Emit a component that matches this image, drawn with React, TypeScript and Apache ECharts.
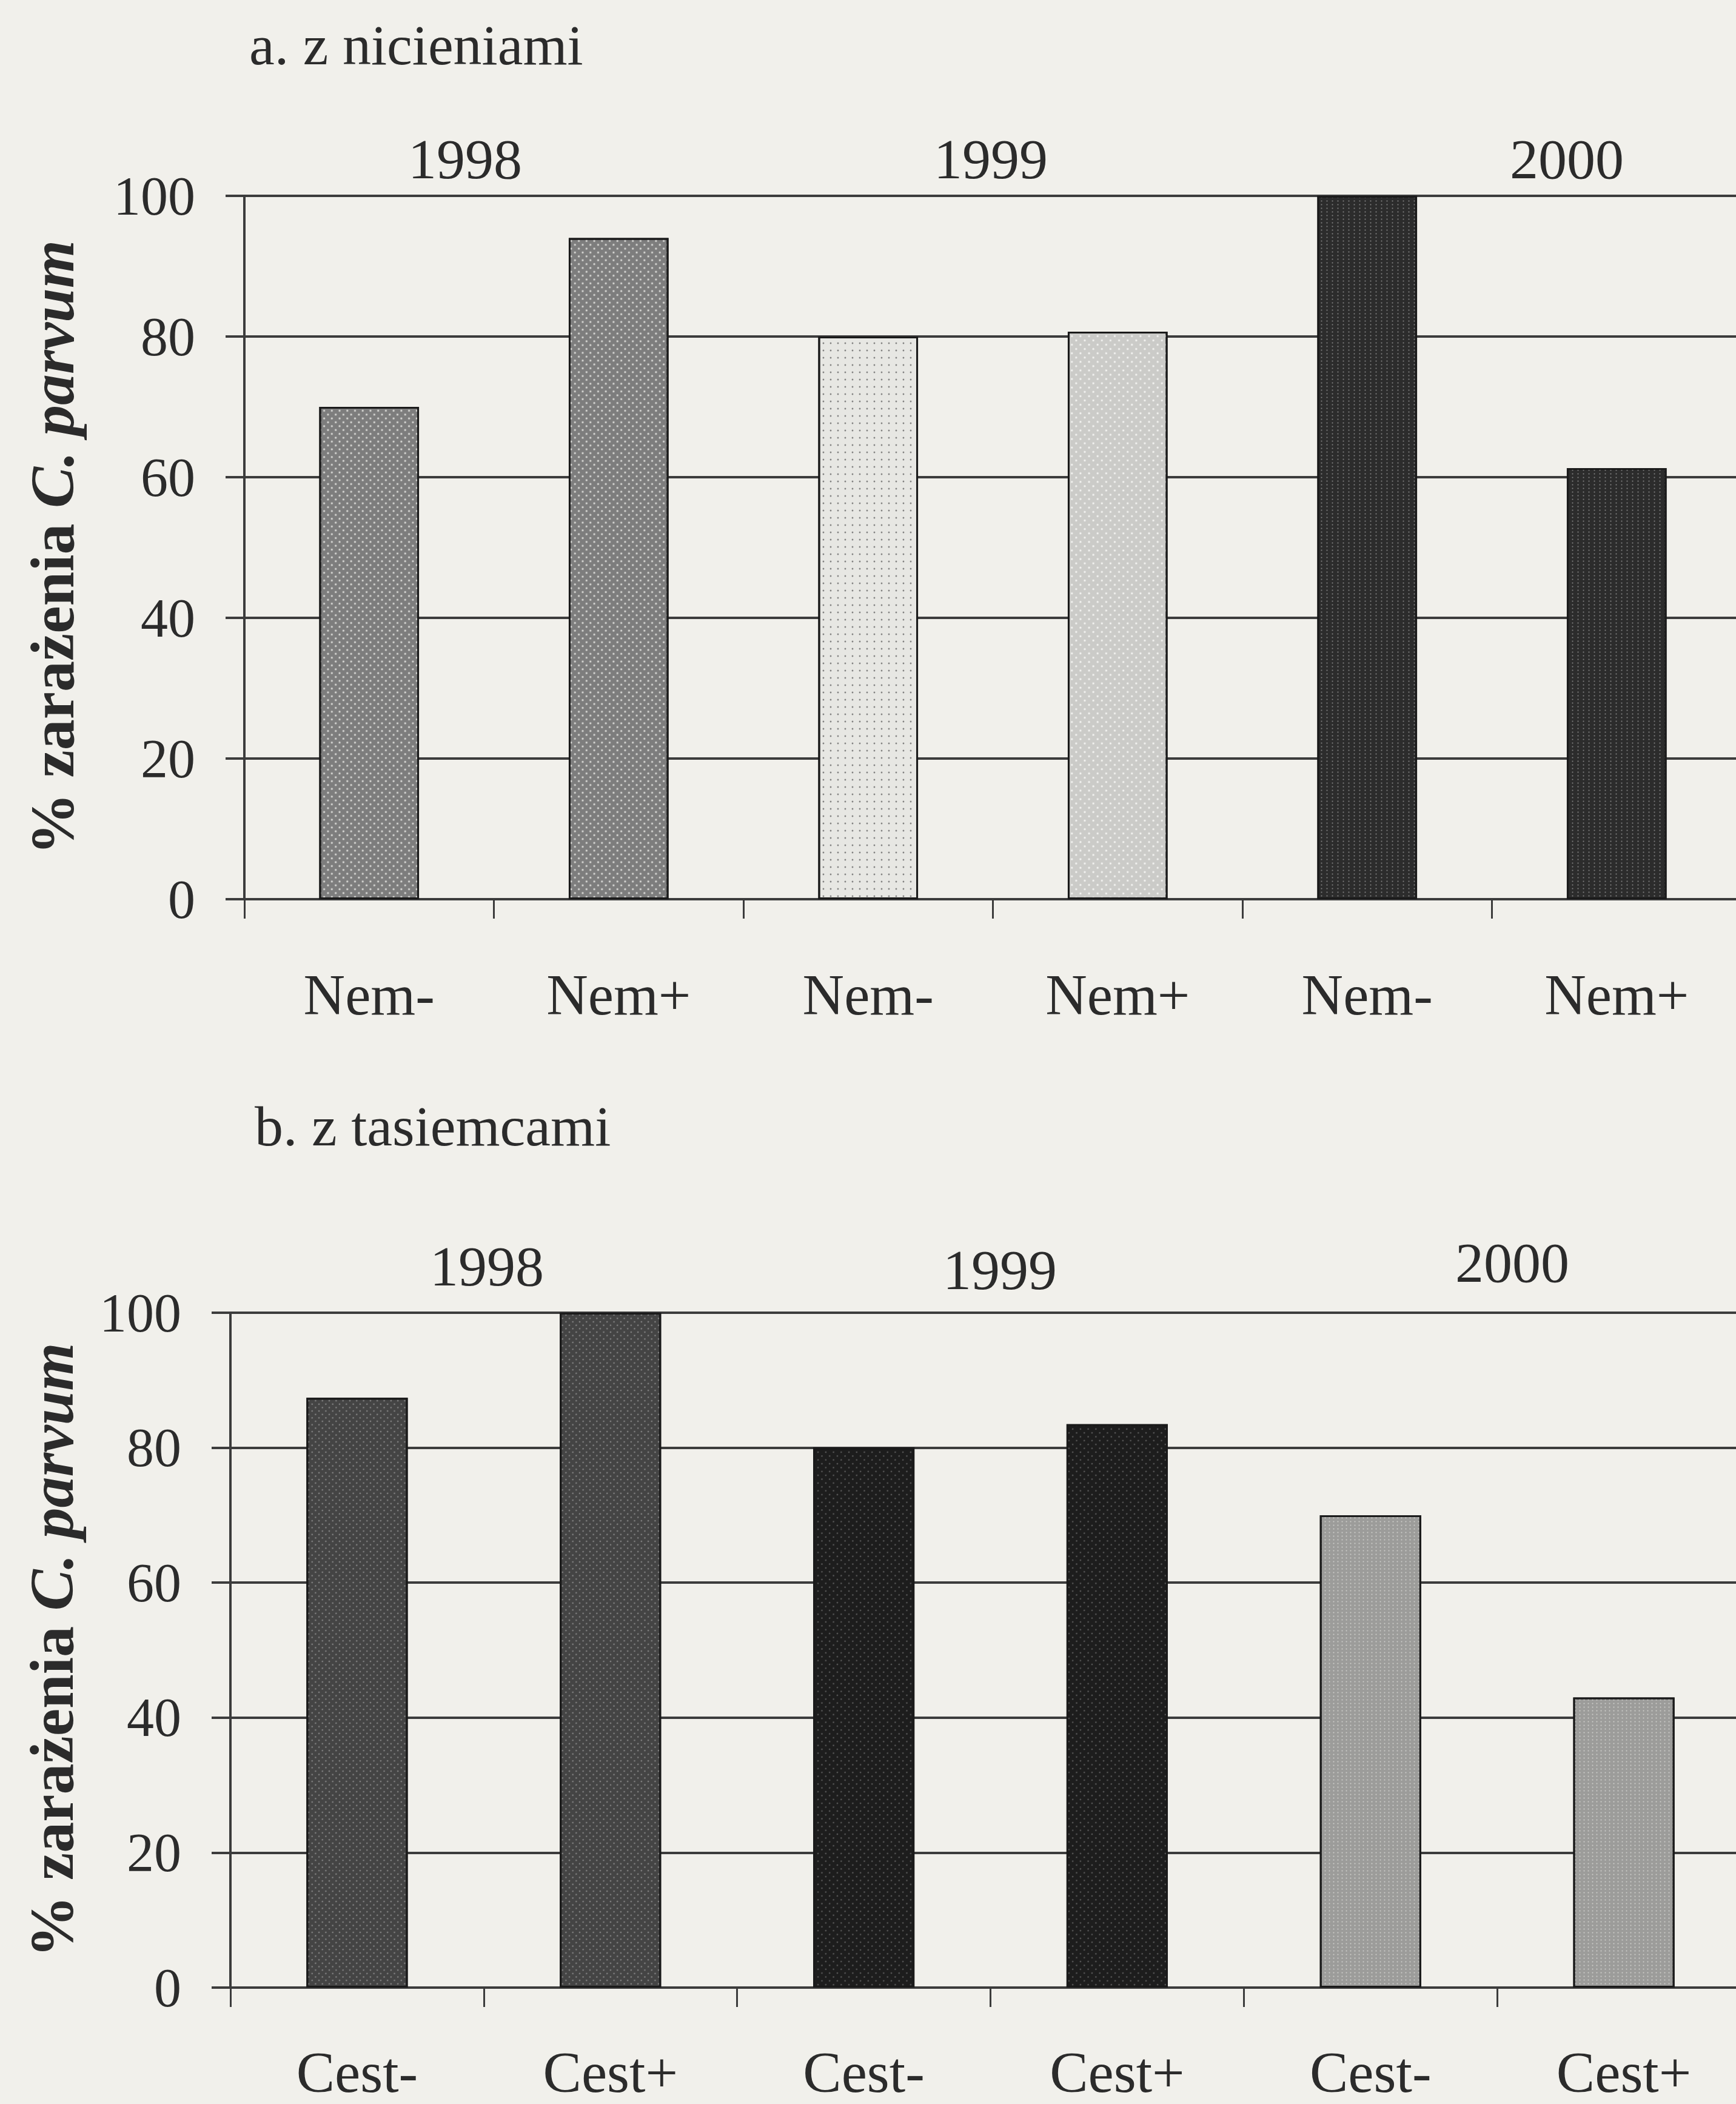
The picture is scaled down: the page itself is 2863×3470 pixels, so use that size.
import React, { useEffect, useRef } from 'react';
import * as echarts from 'echarts';

// ---- data ----
const topCategories = ['Nem-', 'Nem+', 'Nem-', 'Nem+', 'Nem-', 'Nem+'];
const topValues = [70, 94, 80, 80.7, 100, 61.3];
const bottomCategories = ['Cest-', 'Cest+', 'Cest-', 'Cest+', 'Cest-', 'Cest+'];
const bottomValues = [87.4, 100, 80, 83.5, 70, 43];
const yearLabels = ['1998', '1999', '2000'];
const titleTop = 'a. z nicieniami';
const titleBottom = 'b. z tasiemcami';
const axisNameMain = '% zarażenia ';
const axisNameSpecies = 'C. parvum';
const yMin = 0;
const yMax = 100;
const yInterval = 20;

// ---- styles ----
const FONT = 'Liberation Serif';
const INK = '#2b2b2b';
const LINE = '#3c3c3c';

const crossLight = {
  symbol: 'circle', symbolSize: 0.8, color: 'rgba(235,235,232,0.85)',
  dashArrayX: [4, 5], dashArrayY: [4, 5], rotation: Math.PI / 4,
};
const dotsGray = {
  symbol: 'circle', symbolSize: 0.7, color: 'rgba(120,120,120,0.9)',
  dashArrayX: [4, 8], dashArrayY: [4, 8], rotation: 0,
};
const crossWhite = {
  symbol: 'circle', symbolSize: 0.8, color: 'rgba(250,250,248,0.9)',
  dashArrayX: [4, 6], dashArrayY: [4, 6], rotation: Math.PI / 4,
};
const colDots = {
  symbol: 'circle', symbolSize: 0.7, color: 'rgba(150,150,150,0.8)',
  dashArrayX: [3, 6], dashArrayY: [3, 3], rotation: 0,
};
const crossGray = {
  symbol: 'circle', symbolSize: 0.8, color: 'rgba(170,170,170,0.75)',
  dashArrayX: [3, 5], dashArrayY: [3, 5], rotation: Math.PI / 4,
};
const darkDots = {
  symbol: 'circle', symbolSize: 0.8, color: 'rgba(120,120,120,0.8)',
  dashArrayX: [3, 6], dashArrayY: [3, 6], rotation: Math.PI / 4,
};
const lightDots = {
  symbol: 'circle', symbolSize: 0.7, color: 'rgba(215,215,212,0.8)',
  dashArrayX: [3, 4], dashArrayY: [3, 3], rotation: 0,
};

const topStyles = [
  { color: '#7d7d7d', decal: crossLight },
  { color: '#7d7d7d', decal: crossLight },
  { color: '#e7e7e3', decal: dotsGray },
  { color: '#cbcbc8', decal: crossWhite },
  { color: '#2c2c2c', decal: colDots },
  { color: '#2c2c2c', decal: colDots },
];
const bottomStyles = [
  { color: '#444444', decal: crossGray },
  { color: '#444444', decal: crossGray },
  { color: '#1d1d1d', decal: darkDots },
  { color: '#1d1d1d', decal: darkDots },
  { color: '#9c9c9a', decal: lightDots },
  { color: '#9c9c9a', decal: lightDots },
];

function makeData(values: number[], styles: any[]) {
  return values.map((v, i) => ({
    value: v,
    itemStyle: { color: styles[i].color, decal: styles[i].decal, borderColor: '#1a1a1a', borderWidth: 3 },
  }));
}

function xAxisCfg(gridIndex: number, data: string[], margin: number) {
  return {
    type: 'category', gridIndex, data,
    axisLine: { show: true, lineStyle: { color: LINE, width: 4 } },
    axisTick: { show: true, length: 32, interval: 0, alignWithLabel: false, lineStyle: { color: LINE, width: 3 } },
    axisLabel: { margin, fontFamily: FONT, fontSize: 95, lineHeight: 96, color: INK, interval: 0 },
    splitLine: { show: false },
  };
}

function yAxisCfg(gridIndex: number, nameGap: number) {
  return {
    type: 'value', gridIndex, min: yMin, max: yMax, interval: yInterval,
    name: '{a|' + axisNameMain + '}{b|' + axisNameSpecies + '}',
    nameLocation: 'middle', nameGap,
    nameTextStyle: {
      rich: {
        a: { fontFamily: FONT, fontSize: 102, fontWeight: 'bold', color: INK },
        b: { fontFamily: FONT, fontSize: 102, fontWeight: 'bold', fontStyle: 'italic', color: INK },
      },
    },
    axisLine: { show: true, lineStyle: { color: LINE, width: 4 } },
    axisTick: { show: true, length: 31, lineStyle: { color: LINE, width: 4 } },
    axisLabel: { margin: 81, fontFamily: FONT, fontSize: 90, color: INK },
    splitLine: { show: true, lineStyle: { color: LINE, width: 4 } },
  };
}

function textEl(text: string, x: number, y: number, align: string, size: number) {
  return {
    type: 'text', x, y, silent: true,
    style: { text, fontFamily: FONT, fontSize: size, fill: INK, align, verticalAlign: 'middle' },
  };
}

export default function App() {
  const ref = useRef<HTMLDivElement>(null);
  useEffect(() => {
    if (!ref.current) return;
    const chart = echarts.init(ref.current, null, { renderer: 'svg' });
    chart.setOption({
      animation: false,
      backgroundColor: '#f1f0eb',
      grid: [
        { left: 403, top: 323, width: 2469, height: 1160, outerBoundsMode: 'none', containLabel: false },
        { left: 380, top: 2165, width: 2507, height: 1113, outerBoundsMode: 'none', containLabel: false },
      ],
      xAxis: [xAxisCfg(0, topCategories, 110), xAxisCfg(1, bottomCategories, 92)],
      yAxis: [yAxisCfg(0, 266), yAxisCfg(1, 244)],
      series: [
        { type: 'bar', xAxisIndex: 0, yAxisIndex: 0, barWidth: '40%', data: makeData(topValues, topStyles) },
        { type: 'bar', xAxisIndex: 1, yAxisIndex: 1, barWidth: '40%', data: makeData(bottomValues, bottomStyles) },
      ],
      graphic: [
        textEl(titleTop, 411, 74, 'left', 94),
        textEl(titleBottom, 420, 1857, 'left', 94),
        textEl(yearLabels[0], 767, 262, 'center', 94),
        textEl(yearLabels[1], 1634, 262, 'center', 94),
        textEl(yearLabels[2], 2584, 262, 'center', 94),
        textEl(yearLabels[0], 803, 2088, 'center', 94),
        textEl(yearLabels[1], 1649, 2094, 'center', 94),
        textEl(yearLabels[2], 2494, 2082, 'center', 94),
      ],
    });
    return () => chart.dispose();
  }, []);
  return (
    <div
      ref={ref}
      style={{ position: 'fixed', left: 0, top: 0, width: '2863px', height: '3470px' }}
    />
  );
}
